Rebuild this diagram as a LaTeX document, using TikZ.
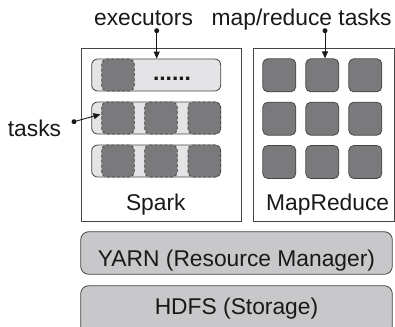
\documentclass[tikz,border=0pt]{standalone}
\usepackage{fontspec}
\setmainfont{Liberation Sans}
\usetikzlibrary{arrows.meta}
\definecolor{sqfill}{RGB}{122,122,124}
\definecolor{rowfill}{RGB}{228,228,230}
\definecolor{layerfill}{RGB}{200,200,202}
\definecolor{edge}{RGB}{70,70,70}
\definecolor{txt}{RGB}{25,25,25}
\tikzset{
  frame/.style={draw=edge, line width=0.8pt, fill=white},
  rowbox/.style={draw=edge, line width=0.8pt, fill=rowfill, rounded corners=6pt, inner sep=0pt, minimum width=129pt, minimum height=32pt},
  dtask/.style={draw=edge, line width=0.8pt, dash pattern=on 3pt off 2pt, fill=sqfill, rounded corners=5pt, inner sep=0pt, minimum width=32.6pt, minimum height=32pt},
  stask/.style={draw=edge, line width=0.8pt, fill=sqfill, rounded corners=5pt, inner sep=0pt, minimum width=33pt, minimum height=33pt},
  layer/.style={draw=edge, line width=0.8pt, fill=layerfill, rounded corners=8pt},
  lbl/.style={text=txt, font=\fontsize{22.8}{26}\selectfont, inner sep=0pt, anchor=base},
  ptr/.style={draw=txt, line width=0.9pt, -{Triangle[length=7pt,width=6pt]}},
  dotmark/.style={fill=txt, circle, inner sep=0pt, minimum size=5pt}
}
\begin{document}
\begin{tikzpicture}[x=1pt,y=-1pt]
\useasboundingbox (0,0) rectangle (395,326);
% frameworks
\draw[frame] (81,48) rectangle (241,221);
\draw[frame] (253,48) rectangle (394,221);
% spark executors
\node[rowbox] (row1) at (156.2,75) {};
\node[rowbox] (row2) at (156.2,118) {};
\node[rowbox] (row3) at (156.2,161) {};
\node[dtask] (t11) at (118,75) {};
\node[lbl, font=\fontsize{22.8}{26}\selectfont\bfseries] (dots) at (172,81) {......};
\node[dtask] (t21) at (118,118) {};
\node[dtask] (t22) at (161,118) {};
\node[dtask] (t23) at (204.2,118) {};
\node[dtask] (t31) at (118,161) {};
\node[dtask] (t32) at (161,161) {};
\node[dtask] (t33) at (204.2,161) {};
% mapreduce tasks
\foreach \i/\y in {1/75.3,2/118.7,3/162}{
  \foreach \j/\x in {1/279.3,2/322.3,3/365.3}{
    \node[stask] (m\i\j) at (\x,\y) {};
  }
}
% labels
\node[lbl] (spark) at (155.8,210) {Spark};
\node[lbl] (mr) at (327.7,210) {MapReduce};
\node[lbl] (exl) at (143.5,26) {executors};
\node[lbl] (mrl) at (301.7,26) {map/reduce tasks};
\node[lbl] (tl) at (34.5,136) {tasks};
% pointers
\node[dotmark] (exdot) at (156.7,30.7) {};
\node[dotmark] (mrdot) at (325,30.7) {};
\node[dotmark] (tdot) at (74,121.7) {};
\coordinate (tend) at (100.5,114.3);
\draw[ptr] (exdot.center) -- (exdot.center |- row1.north);
\draw[ptr] (mrdot.center) -- (mrdot.center |- m12.north);
\draw[ptr] (tdot.center) -- (tend);
% layers
\draw[layer] (80.7,231.7) rectangle (392.3,274.3);
\node[lbl] (yarn) at (236.5,266) {YARN (Resource Manager)};
\draw[layer] (80.7,285.7) rectangle (392.3,334);
\node[lbl] (hdfs) at (236.5,314.3) {HDFS (Storage)};
\end{tikzpicture}
\end{document}
